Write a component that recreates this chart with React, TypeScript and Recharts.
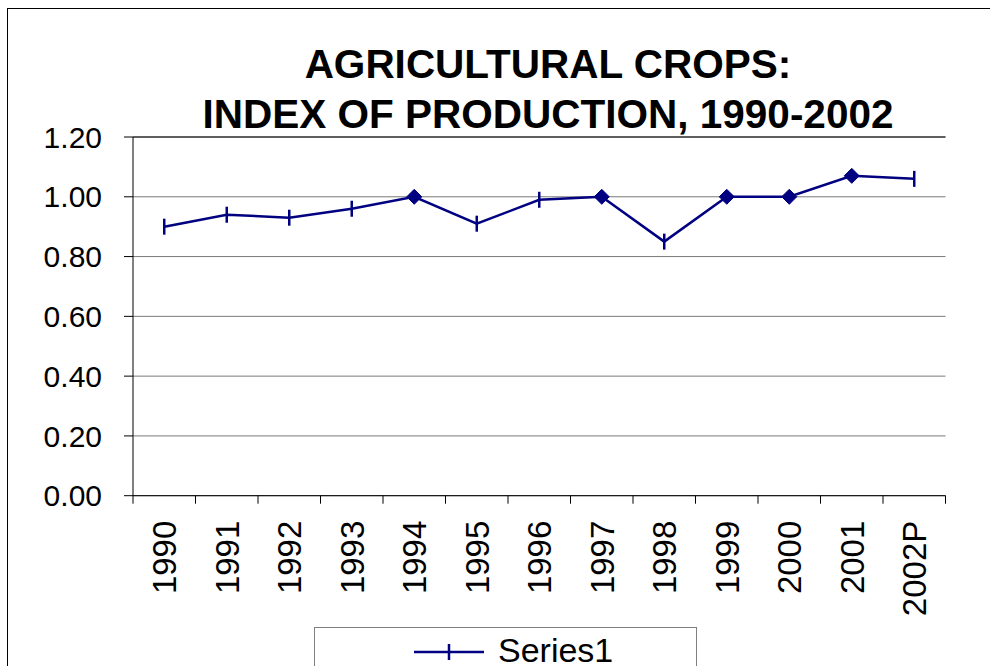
import React from 'react';
import {
  CartesianGrid,
  Legend,
  Line,
  LineChart,
  ReferenceLine,
  XAxis,
  YAxis,
} from 'recharts';

// values
const years = ['1990', '1991', '1992', '1993', '1994', '1995', '1996', '1997', '1998', '1999', '2000', '2001', '2002P'];
const productionIndex = [0.9, 0.94, 0.93, 0.96, 1.0, 0.91, 0.99, 1.0, 0.85, 1.0, 1.0, 1.07, 1.06];
// points the original shows with a filled diamond instead of the plain tick marker
const diamondYears = ['1994', '1997', '1999', '2000', '2001'];
const yTicks = [0, 0.2, 0.4, 0.6, 0.8, 1.0, 1.2];
const titleLines = ['AGRICULTURAL CROPS:', 'INDEX OF PRODUCTION, 1990-2002'];
const seriesName = 'Series1';

const data = years.map((year, i) => ({ year, value: productionIndex[i] }));

const W = 990;
const H = 666;
const PLOT_LEFT = 133;
const PLOT_RIGHT = 945.5;
const BAND = (PLOT_RIGHT - PLOT_LEFT) / years.length;
const NAVY = '#000080';
const FONT = '"Liberation Sans", Arial, sans-serif';

function YearTick(props: any) {
  const { x, y, payload, index } = props;
  const left = x - BAND / 2;
  const ly = y + 25;
  return (
    <g>
      <line x1={left} y1={y} x2={left} y2={y + 8} stroke="#000" />
      {index === years.length - 1 && (
        <line x1={x + BAND / 2} y1={y} x2={x + BAND / 2} y2={y + 8} stroke="#000" />
      )}
      <text
        x={x}
        y={ly}
        transform={`rotate(-90, ${x}, ${ly})`}
        textAnchor="end"
        dy="0.36em"
        fontSize={33}
        fontFamily={FONT}
        fill="#000"
      >
        {payload.value}
      </text>
    </g>
  );
}

function Marker(props: any) {
  const { cx, cy, payload, index } = props;
  if (cx == null || cy == null) return <g key={index} />;
  if (diamondYears.includes(payload.year)) {
    const r = 7.5;
    return (
      <polygon
        key={index}
        points={`${cx},${cy - r} ${cx + r},${cy} ${cx},${cy + r} ${cx - r},${cy}`}
        fill={NAVY}
        stroke={NAVY}
      />
    );
  }
  return <line key={index} x1={cx} y1={cy - 8} x2={cx} y2={cy + 8} stroke={NAVY} strokeWidth={2.5} />;
}

function LegendBox() {
  return (
    <div
      style={{
        width: '100%',
        height: '100%',
        boxSizing: 'border-box',
        border: '1px solid #808080',
        background: '#fff',
      }}
    >
      <svg width={383} height={38} style={{ display: 'block' }}>
        <line x1={99} y1={24} x2={169} y2={24} stroke={NAVY} strokeWidth={2.5} />
        <line x1={134} y1={16} x2={134} y2={32} stroke={NAVY} strokeWidth={2.5} />
        <text x={183} y={34} fontSize={34} fontFamily={FONT} fill="#000">
          {seriesName}
        </text>
      </svg>
    </div>
  );
}

export default function App() {
  return (
    <div
      style={{
        position: 'fixed',
        left: 0,
        top: 0,
        width: W,
        height: H,
        background: '#fff',
        overflow: 'hidden',
        fontFamily: FONT,
      }}
    >
      <div
        style={{
          position: 'absolute',
          left: 7,
          top: 8,
          width: 1000,
          height: 700,
          border: '1px solid #000',
        }}
      />
      <div style={{ position: 'absolute', left: 0, top: 0 }}>
        <LineChart
          width={W}
          height={H}
          data={data}
          margin={{ top: 137, right: W - PLOT_RIGHT, left: 0, bottom: 0 }}
        >
          <CartesianGrid vertical={false} stroke="#7a7a7a" />
          <XAxis
            dataKey="year"
            interval={0}
            height={170.3}
            padding={{ left: BAND / 2, right: BAND / 2 }}
            axisLine={{ stroke: '#000' }}
            tickLine={false}
            tickSize={0}
            tickMargin={0}
            tick={<YearTick />}
          />
          <YAxis
            width={PLOT_LEFT}
            domain={[0, 1.2]}
            ticks={yTicks}
            interval={0}
            tickFormatter={(v: number) => v.toFixed(2)}
            axisLine={{ stroke: '#000' }}
            tickLine={{ stroke: '#000' }}
            tickSize={9}
            tickMargin={22}
            tick={{ fontSize: 30, fill: '#000', fontFamily: FONT }}
          />
          <YAxis
            yAxisId="frame"
            orientation="right"
            width={0}
            domain={[0, 1]}
            tick={false}
            tickLine={false}
            axisLine={{ stroke: '#808080' }}
          />
          <ReferenceLine y={1.2} stroke="#000" />
          <Legend
            layout="horizontal"
            verticalAlign="middle"
            align="center"
            wrapperStyle={{ left: 314, top: 627, width: 383, height: 60 }}
            content={() => <LegendBox />}
          />
          <Line
            type="linear"
            dataKey="value"
            name={seriesName}
            stroke={NAVY}
            strokeWidth={2.5}
            dot={(p: any) => <Marker key={p.index} {...p} />}
            activeDot={false}
            isAnimationActive={false}
          />
        </LineChart>
      </div>
      <svg
        width={W}
        height={150}
        style={{ position: 'absolute', left: 0, top: 0, pointerEvents: 'none' }}
      >
        {titleLines.map((t, i) => (
          <text
            key={t}
            x={548}
            y={78 + i * 50}
            textAnchor="middle"
            fontSize={40.5}
            fontWeight="bold"
            fontFamily={FONT}
            fill="#000"
          >
            {t}
          </text>
        ))}
      </svg>
    </div>
  );
}
